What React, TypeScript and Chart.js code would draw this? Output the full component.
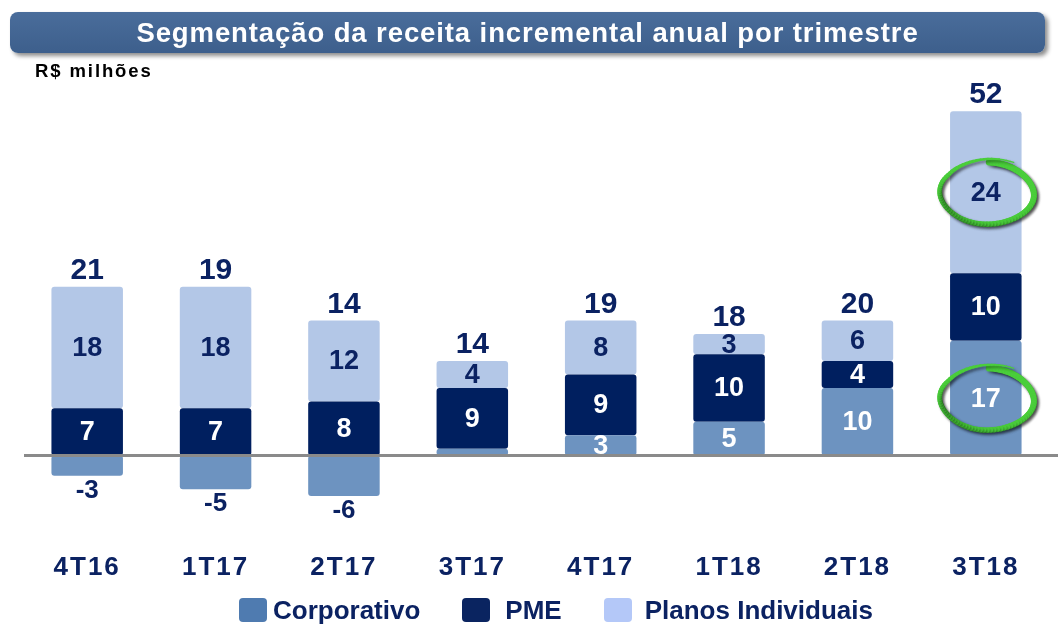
import React, { useEffect, useRef } from "react";
import { Chart, registerables } from "chart.js";

Chart.register(...registerables);

// ---- data ----
const categories = ["4T16", "1T17", "2T17", "3T17", "4T17", "1T18", "2T18", "3T18"];
const corporativo = [-3, -5, -6, 1, 3, 5, 10, 17];
const pme = [7, 7, 8, 9, 9, 10, 4, 10];
const planosIndividuais = [18, 18, 12, 4, 8, 3, 6, 24];
const totals = [21, 19, 14, 14, 19, 18, 20, 52];
const seriesNames = ["Corporativo", "PME", "Planos Individuais"];
const titleText = "Segmentação da receita incremental anual por trimestre";
const unitText = "R$ milhões";
const highlighted = [
  { series: 2, index: 7 },
  { series: 0, index: 7 },
];

// ---- styles ----
const FONT = "'Liberation Sans', Arial, Helvetica, sans-serif";
const NAVY = "#0b2262";
const barColors = ["#6d93c0", "#001f5f", "#b3c7e7"];
const legendColors = ["#4f7bb0", "#0a2460", "#b4c8f8"];
const insideLabelColors = ["#ffffff", "#ffffff", NAVY];
const legendTextGap = [6, 15, 13];

function drawScribble(ctx: CanvasRenderingContext2D, cx: number, cy: number, rx: number, ry: number) {
  const N = 90;
  const start = -Math.PI / 2 + 0.05;
  const sweep = Math.PI * 2 + 0.5;
  const pts: [number, number][] = [];
  for (let i = 0; i <= N; i++) {
    const p = i / N;
    const t = start + sweep * p;
    const grow = 1 + (p > 0.78 ? (p - 0.78) * 0.75 : 0);
    const wobble = 1 + 0.04 * Math.sin(t * 2 + 0.6);
    pts.push([cx + rx * grow * wobble * Math.cos(t), cy + ry * grow * Math.sin(t)]);
  }
  ctx.save();
  ctx.lineCap = "round";
  ctx.shadowColor = "rgba(0,0,0,0.35)";
  ctx.shadowBlur = 3;
  ctx.shadowOffsetX = 2;
  ctx.shadowOffsetY = 2;
  for (let i = 0; i < N; i++) {
    const p = i / N;
    const w = p < 0.75 ? 6.5 - p * 2.5 : Math.max(1, 4.6 - (p - 0.75) * 14);
    ctx.beginPath();
    ctx.moveTo(pts[i][0], pts[i][1]);
    ctx.lineTo(pts[i + 1][0], pts[i + 1][1]);
    ctx.strokeStyle = "#4ace3b";
    ctx.lineWidth = w;
    ctx.stroke();
  }
  ctx.restore();
}

const labelsPlugin = {
  id: "customLabels",
  beforeDraw(chart: any) {
    (chart.ctx as any).letterSpacing = "2px";
  },
  beforeDatasetsDraw(chart: any) {
    (chart.ctx as any).letterSpacing = "0px";
  },
  afterDatasetsDraw(chart: any) {
    const ctx: CanvasRenderingContext2D = chart.ctx;
    (ctx as any).letterSpacing = "0px";
    const area = chart.chartArea;
    const yScale = chart.scales.y;
    const zeroY = yScale.getPixelForValue(0);

    // zero line
    ctx.save();
    ctx.strokeStyle = "#8a8a8a";
    ctx.lineWidth = 3;
    ctx.beginPath();
    ctx.moveTo(area.left + 1, zeroY);
    ctx.lineTo(chart.width, zeroY);
    ctx.stroke();
    ctx.restore();

    ctx.save();
    ctx.textAlign = "center";
    ctx.textBaseline = "middle";
    chart.data.datasets.forEach((ds: any, di: number) => {
      const meta = chart.getDatasetMeta(di);
      meta.data.forEach((el: any, i: number) => {
        const v = ds.data[i];
        const { x, y, base } = el.getProps(["x", "y", "base"], true);
        const h = Math.abs(base - y);
        if (v < 0) {
          ctx.fillStyle = NAVY;
          ctx.font = `bold 26px ${FONT}`;
          ctx.fillText(String(v), x, Math.max(y, base) + 15);
        } else if (h >= 12) {
          ctx.fillStyle = insideLabelColors[di];
          ctx.font = `bold 27px ${FONT}`;
          ctx.fillText(String(v), x, (y + base) / 2 + 1);
        }
      });
    });

    // totals
    ctx.fillStyle = NAVY;
    ctx.font = `bold 30px ${FONT}`;
    ctx.textBaseline = "alphabetic";
    totals.forEach((t, i) => {
      let top = zeroY;
      let cx = 0;
      chart.data.datasets.forEach((ds: any, di: number) => {
        const el: any = chart.getDatasetMeta(di).data[i];
        const { x, y } = el.getProps(["x", "y"], true);
        cx = x;
        if (ds.data[i] > 0) top = Math.min(top, y);
      });
      ctx.fillText(String(t), cx, top - 8);
    });
    ctx.restore();

    // highlight scribbles
    highlighted.forEach(({ series, index }) => {
      const el: any = chart.getDatasetMeta(series).data[index];
      const { x, y, base } = el.getProps(["x", "y", "base"], true);
      drawScribble(ctx, x + 1, (y + base) / 2 + 1, 46, 31);
    });
  },
};

export default function App() {
  const canvasRef = useRef<HTMLCanvasElement | null>(null);

  useEffect(() => {
    document.body.style.margin = "0";
    const canvas = canvasRef.current;
    if (!canvas) return;
    const chart = new Chart(canvas, {
      type: "bar",
      data: {
        labels: categories,
        datasets: [corporativo, pme, planosIndividuais].map((d, i) => ({
          label: seriesNames[i],
          data: d,
          backgroundColor: barColors[i],
          borderWidth: 0,
          borderSkipped: false,
          borderRadius: { topLeft: 3, topRight: 3, bottomLeft: 3, bottomRight: 3 },
          barPercentage: 0.557,
          categoryPercentage: 1,
        })),
      },
      options: {
        animation: false,
        responsive: false,
        layout: { padding: { left: 23, right: 8, top: 91, bottom: 0 } },
        plugins: {
          legend: { display: false },
          tooltip: { enabled: false },
          title: { display: false },
        },
        scales: {
          x: {
            stacked: true,
            grid: { display: false, drawTicks: false },
            border: { display: false },
            ticks: {
              color: NAVY,
              font: { family: FONT, size: 26, weight: "bold" },
              padding: 22,
            },
            afterFit: (s: any) => {
              s.height = 95.25;
            },
          },
          y: {
            stacked: true,
            display: false,
            min: -11,
            max: 54,
          },
        },
      },
      plugins: [labelsPlugin],
    } as any);
    return () => chart.destroy();
  }, []);

  return (
    <div style={{ position: "relative", width: 1058, height: 625, fontFamily: FONT }}>
      <canvas ref={canvasRef} width={1058} height={625} style={{ position: "absolute", left: 0, top: 0 }} />
      <div
        style={{
          position: "absolute",
          left: 10,
          top: 12,
          width: 1035,
          height: 41,
          borderRadius: 8,
          background: "linear-gradient(#4a6d9b, #3d5f8c)",
          boxShadow: "3px 3px 4px rgba(0,0,0,0.45)",
          color: "#ffffff",
          fontWeight: "bold",
          fontSize: 27.5,
          letterSpacing: "0.9px",
          lineHeight: "42px",
          textAlign: "center",
          whiteSpace: "nowrap",
        }}
      >
        {titleText}
      </div>
      <div
        style={{
          position: "absolute",
          left: 35,
          top: 60,
          fontWeight: "bold",
          fontSize: 18.5,
          letterSpacing: "1.9px",
          color: "#000000",
          whiteSpace: "nowrap",
        }}
      >
        {unitText}
      </div>
      <div
        style={{
          position: "absolute",
          left: 239,
          top: 596,
          height: 28,
          display: "flex",
          alignItems: "center",
        }}
      >
        {seriesNames.map((n, i) => (
          <div key={n} style={{ display: "flex", alignItems: "center", marginRight: i < 2 ? 42 : 0 }}>
            <div
              style={{
                width: 28,
                height: 24,
                borderRadius: 4,
                background: legendColors[i],
                marginRight: legendTextGap[i],
              }}
            />
            <span style={{ fontWeight: "bold", fontSize: 26, color: NAVY, whiteSpace: "nowrap" }}>{n}</span>
          </div>
        ))}
      </div>
    </div>
  );
}
